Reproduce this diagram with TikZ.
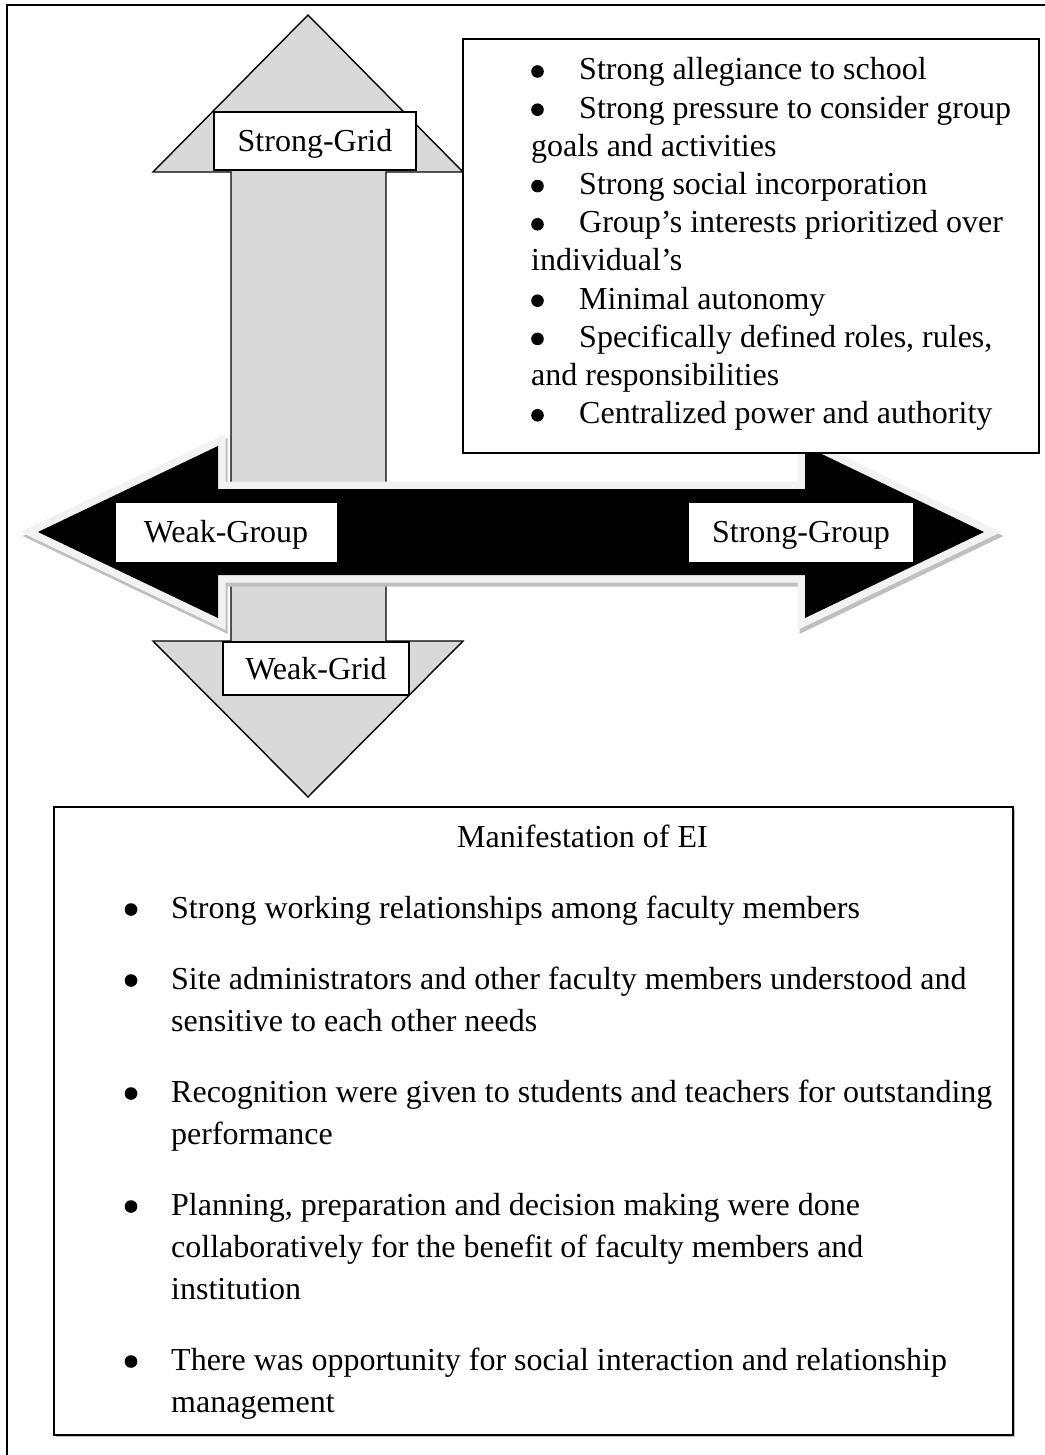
\documentclass[tikz,border=0pt]{standalone}
\usepackage{fontspec}
\setmainfont{Liberation Serif}
\definecolor{gridgray}{HTML}{D9D9D9}
\definecolor{rimlight}{HTML}{F2F2F2}
\definecolor{rimshadow}{HTML}{BFBFBF}
\newcommand\topfont{\fontsize{32}{38.2}\selectfont}
\newcommand\lowfont{\fontsize{32}{42}\selectfont}
\newcommand\dotmark{\tikz[baseline=0pt]\fill[black] (6.3pt,8.5pt) circle (6.3pt);}
\newcommand\tbul{\makebox[48pt][l]{\dotmark}}
\newcommand\bbul{\leavevmode\llap{\makebox[46.5pt][l]{\dotmark}}}
\begin{document}
\begin{tikzpicture}[x=1pt,y=-1pt,
  frameline/.style={draw=black, line width=1.4pt},
  gridarrow/.style={draw=black, line width=1.4pt, fill=gridgray, line join=miter},
  gridlabel/.style={draw=black, line width=1.4pt, fill=white, inner sep=0pt,
     text height=29pt, text depth=7pt, font=\topfont},
  grouplabel/.style={fill=white, inner sep=0pt, text height=27pt, text depth=7pt, font=\topfont},
  textbox/.style={draw=black, line width=1.4pt, fill=white, inner sep=0pt},
  plaintext/.style={anchor=base west, inner sep=0pt},
]
\useasboundingbox (0,0) rectangle (1044,1455);
% outer frame (continues beyond the page on the right and bottom)
\draw[frameline] (7,1480) -- (7,5) -- (1080,5);

% vertical grid arrow
\draw[gridarrow] (308,15) -- (463,172) -- (386,172) -- (386,641) -- (463,641)
  -- (308,797) -- (153,641) -- (231,641) -- (231,172) -- (153,172) -- cycle;

% horizontal group arrow: shadow, light rim, black body
\def\grouppath{(38,532) -- (218,446) -- (218,489) -- (805,489) -- (805,446)
  -- (984,532) -- (805,618) -- (805,575) -- (218,575) -- (218,618) -- cycle}
\begin{scope}[shift={(2,4)}]
  \filldraw[draw=rimshadow, fill=rimshadow, line width=15pt, line join=miter] \grouppath;
\end{scope}
\filldraw[draw=rimlight, fill=rimlight, line width=15pt, line join=miter] \grouppath;
\fill[black] \grouppath;

% labels on the arrows
\node[gridlabel, minimum width=202pt, minimum height=58pt] (strgrid) at (315,141) {Strong-Grid};
\node[gridlabel, minimum width=186pt, minimum height=53pt] (wkgrid) at (316,668.5) {Weak-Grid};
\node[grouplabel, minimum width=221pt, minimum height=59pt] (wkgroup) at (226,532.5) {Weak-Group};
\node[grouplabel, minimum width=224pt, minimum height=59pt] (strgroup) at (801,532.5) {Strong-Group};

% top-right box
\node[textbox, minimum width=576pt, minimum height=414pt] (gridbox) at (751,246) {};
\node[plaintext] (gridtext) at (531,80) {\begin{minipage}[t]{500pt}\topfont\raggedright
\tbul Strong allegiance to school\\
\tbul Strong pressure to consider group\\
goals and activities\\
\tbul Strong social incorporation\\
\tbul Group’s interests prioritized over\\
individual’s\\
\tbul Minimal autonomy\\
\tbul Specifically defined roles, rules,\\
and responsibilities\\
\tbul Centralized power and authority\par
\end{minipage}};

% bottom box
\fill[rimshadow] (55.5,808.5) rectangle (1015,1437);
\node[textbox, minimum width=959pt, minimum height=628pt] (eibox) at (533.5,1121) {};
\node[plaintext, font=\lowfont] (eititle) at (457,847) {Manifestation of EI};
\node[plaintext] (eitext) at (171,918) {\begin{minipage}[t]{850pt}\lowfont\raggedright
\bbul Strong working relationships among faculty members\\[29pt]
\bbul Site administrators and other faculty members understood and\\
sensitive to each other needs\\[29pt]
\bbul Recognition were given to students and teachers for outstanding\\
performance\\[29pt]
\bbul Planning, preparation and decision making were done\\
collaboratively for the benefit of faculty members and\\
institution\\[29pt]
\bbul There was opportunity for social interaction and relationship\\
management\par
\end{minipage}};
\end{tikzpicture}
\end{document}
